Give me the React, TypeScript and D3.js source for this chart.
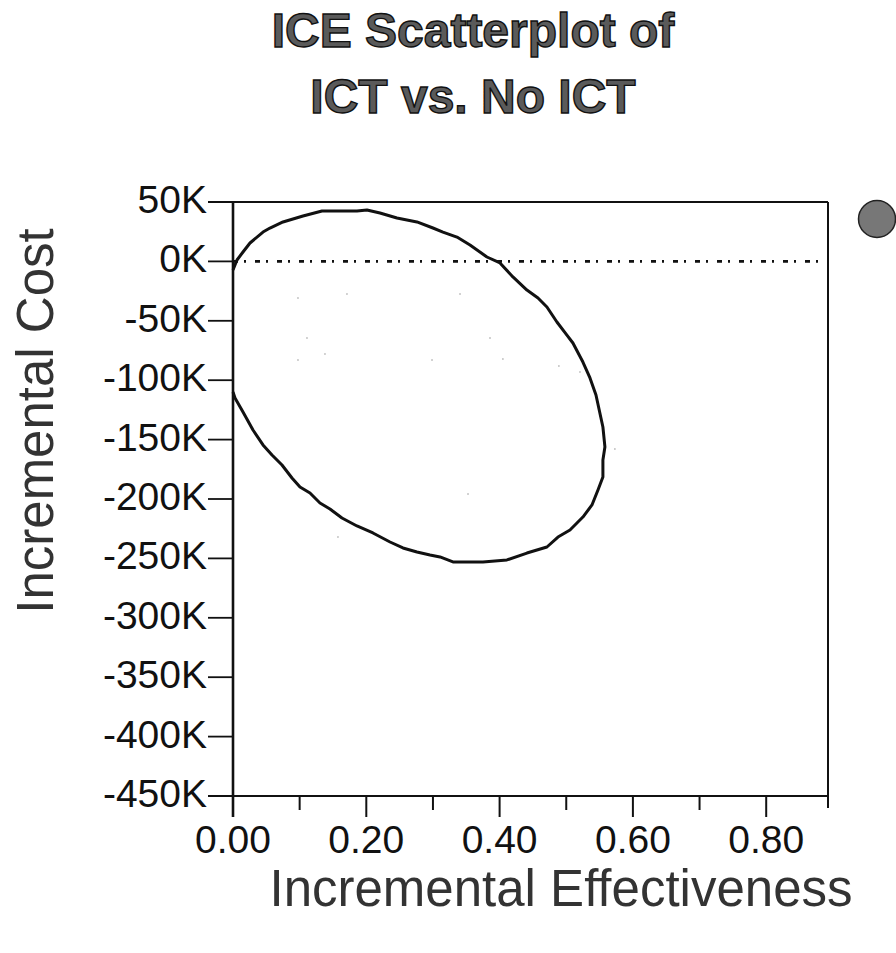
import React from "react";
import * as d3 from "d3";

// Confidence ellipse outline (incremental effectiveness, incremental cost in K)
const ellipseX = [0, 0.006, 0.015, 0.0255, 0.045, 0.0555, 0.075, 0.105, 0.1335, 0.1605, 0.186, 0.201, 0.2205, 0.246, 0.276, 0.3, 0.315, 0.336, 0.3556, 0.381, 0.4006, 0.42, 0.441, 0.4576, 0.471, 0.486, 0.501, 0.51, 0.525, 0.5356, 0.5446, 0.555, 0.558, 0.555, 0.555, 0.5476, 0.5386, 0.525, 0.5056, 0.4876, 0.471, 0.441, 0.411, 0.375, 0.33, 0.3106, 0.2956, 0.276, 0.255, 0.2356, 0.21, 0.186, 0.1635, 0.1455, 0.1305, 0.1155, 0.1005, 0.0885, 0.0735, 0.0585, 0.045, 0.03, 0.015, 0.003, 0];
const ellipseY = [-7.2, 1.2, 7.9, 15.5, 24.7, 28.1, 33.2, 38.2, 42.4, 42.4, 42.4, 43.3, 40.7, 36.5, 33.2, 28.1, 24.7, 20.5, 13.8, 3.7, -1.3, -13.1, -24.1, -30.8, -38.4, -51, -62, -68.7, -84.7, -98.1, -112.5, -139.4, -156.2, -167.2, -181.5, -192.4, -205, -215.2, -226.1, -232, -240.4, -245.5, -251.3, -253, -253, -248.8, -247.1, -244.6, -241.2, -236.2, -228.6, -222.7, -216, -208.4, -203.4, -195, -189.9, -182.3, -171.4, -163, -154.5, -141.9, -126.8, -115, -109.9];

// Faint scatter points
const pointsX = [0.0975, 0.171, 0.3406, 0.111, 0.3856, 0.138, 0.0975, 0.2986, 0.405, 0.489, 0.5206, 0.573, 0.3526, 0.1575];
const pointsY = [-30.8, -27.4, -27.4, -64.5, -64.5, -77.9, -83, -83, -82.2, -88, -93.1, -157.9, -195.8, -232];

const yTicks = [50, 0, -50, -100, -150, -200, -250, -300, -350, -400, -450];
const xMajorTicks = [0, 0.2, 0.4, 0.6, 0.8];
const xMinorTicks = [0.1, 0.3, 0.5, 0.7];
const xDomain = [0, 0.893];
const yDomain = [-450, 50];
const refLineEnd = 0.88;

const titleLines = ["ICE Scatterplot of", "ICT vs. No ICT"];
const xTitle = "Incremental Effectiveness";
const yTitle = "Incremental Cost";

const FONT = "'Liberation Sans', Arial, Helvetica, sans-serif";

export default function App() {
  const W = 896, H = 953;
  const left = 233, right = 828, top = 202, bottom = 796;
  const x = d3.scaleLinear().domain(xDomain).range([left, left + (xDomain[1] - xDomain[0]) * 666.5]);
  const y = d3.scaleLinear().domain(yDomain).range([bottom, top]);

  const line = d3.line<number>()
    .x((_, i) => x(ellipseX[i]))
    .y((d) => y(d))
    .curve(d3.curveLinear);

  const fmtY = (v: number) => `${v}K`;
  const fmtX = d3.format(".2f");

  return (
    <svg width={W} height={H} style={{ position: "absolute", left: 0, top: 0, background: "#fff" }} fontFamily={FONT}>
      {/* Title */}
      {titleLines.map((t, i) => (
        <text key={t} x={473} y={47 + i * 66} textAnchor="middle" fontSize={48} fontWeight="bold" fill="#5a5a5a" stroke="#111" strokeWidth={1.4}>
          {t}
        </text>
      ))}

      {/* Frame */}
      <line x1={208} x2={right} y1={top} y2={top} stroke="#111" strokeWidth={1.8} />
      <line x1={right} x2={right} y1={top} y2={808} stroke="#111" strokeWidth={2} />
      <line x1={208} x2={right} y1={bottom} y2={bottom} stroke="#111" strokeWidth={1.8} />
      <line x1={left} x2={left} y1={top} y2={817} stroke="#111" strokeWidth={2.6} />

      {/* Y ticks */}
      {yTicks.map((v) => (
        <g key={v}>
          <line x1={208} x2={left} y1={y(v)} y2={y(v)} stroke="#111" strokeWidth={1.8} />
          <text x={207} y={y(v) + 11} textAnchor="end" fontSize={39} fill="#111">{fmtY(v)}</text>
        </g>
      ))}

      {/* X ticks */}
      {xMajorTicks.map((v) => (
        <g key={v}>
          <line x1={x(v)} x2={x(v)} y1={bottom} y2={817} stroke="#111" strokeWidth={2} />
          <text x={x(v)} y={853} textAnchor="middle" fontSize={39} fill="#111">{fmtX(v)}</text>
        </g>
      ))}
      {xMinorTicks.map((v) => (
        <line key={v} x1={x(v)} x2={x(v)} y1={bottom} y2={810} stroke="#111" strokeWidth={2} />
      ))}

      {/* Reference line at 0 */}
      <line x1={x(0)} x2={x(refLineEnd)} y1={y(0)} y2={y(0)} stroke="#111" strokeWidth={2.8} strokeDasharray="5,6,2,9" />

      {/* Scatter points */}
      {pointsX.map((px, i) => (
        <circle key={i} cx={x(px)} cy={y(pointsY[i])} r={0.8} fill="#999" />
      ))}

      {/* Ellipse */}
      <path d={line(ellipseY) || ""} fill="none" stroke="#111" strokeWidth={3} strokeLinejoin="round" />

      {/* Legend dot */}
      <circle cx={877} cy={219} r={18.5} fill="#777" stroke="#222" strokeWidth={1.5} />

      {/* Axis titles */}
      <text x={561} y={906} textAnchor="middle" fontSize={51} fill="#333">{xTitle}</text>
      <text transform={`translate(53,421) rotate(-90)`} textAnchor="middle" fontSize={51} fill="#333">{yTitle}</text>
    </svg>
  );
}
